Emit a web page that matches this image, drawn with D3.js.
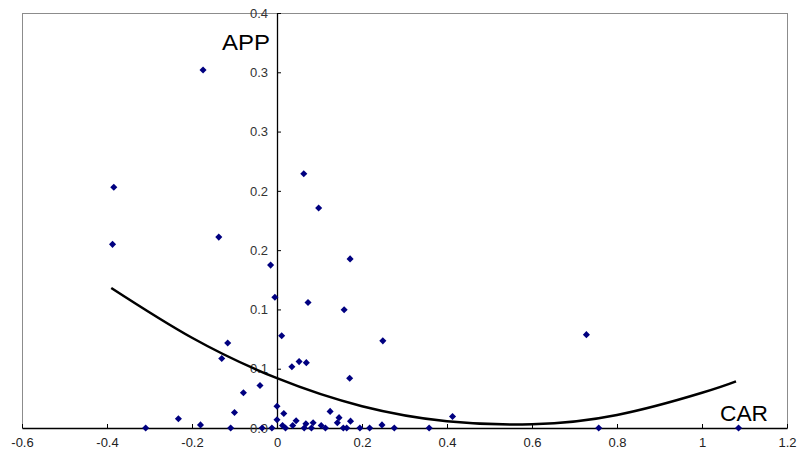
<!DOCTYPE html>
<html>
<head>
<meta charset="utf-8">
<script src="https://cdn.jsdelivr.net/npm/d3@7"></script>
<style>
  body { margin: 0; background: #fff; }
  text { font-family: "Liberation Sans", Arial, sans-serif; }
</style>
</head>
<body>
<script>
// scatter points (CAR, APP)
var carValues = [-0.174, -0.384, -0.387, -0.137, 0.063, 0.098, -0.015, 0.172, -0.005, 0.073,
  0.158, 0.011, -0.116, -0.130, 0.035, 0.052, 0.069, 0.249, 0.728, 0.171,
  -0.040, -0.079, -0.100, -0.232, -0.180, -0.309, -0.109, -0.035, -0.012, 0.0,
  0.016, 0.0, 0.013, 0.020, 0.037, 0.045, 0.064, 0.068, 0.081, 0.085,
  0.104, 0.114, 0.125, 0.142, 0.146, 0.156, 0.164, 0.173, 0.195, 0.218,
  0.247, 0.276, 0.358, 0.413, 0.757, 1.086];
var appValues = [0.345, 0.232, 0.177, 0.184, 0.245, 0.212, 0.157, 0.163, 0.126, 0.121,
  0.114, 0.089, 0.082, 0.067, 0.059, 0.064, 0.063, 0.084, 0.090, 0.048,
  0.041, 0.034, 0.015, 0.009, 0.003, 0.0, 0.0, 0.0, 0.0, 0.021,
  0.014, 0.008, 0.0024, 0.0, 0.0024, 0.007, 0.0, 0.004, 0.0, 0.005,
  0.0024, 0.0, 0.016, 0.005, 0.010, 0.0, 0.0, 0.0066, 0.0, 0.0,
  0.003, 0.0, 0.0, 0.011, 0.0, 0.0];

// polynomial trend line
var trendX = [-0.39, -0.2, 0, 0.2, 0.4, 0.6, 0.8, 1.0, 1.08];
var trendY = [0.135, 0.087, 0.048, 0.021, 0.0065, 0.0036, 0.0126, 0.034, 0.045];

var xTicks = [-0.6, -0.4, -0.2, 0, 0.2, 0.4, 0.6, 0.8, 1, 1.2];
var xLabels = ["-0.6", "-0.4", "-0.2", "0", "0.2", "0.4", "0.6", "0.8", "1", "1.2"];
var yTicks = [0, 1, 2, 3, 4, 5, 6, 7].map(function(i){ return i * 0.4 / 7; });

var W = 799, H = 453;
var plotL = 22, plotR = 787, plotT = 13, plotB = 428;

var x = d3.scaleLinear().domain([-0.6, 1.2]).range([plotL, plotR]);
var y = d3.scaleLinear().domain([0, 0.4]).range([plotB, plotT]);

var svg = d3.select("body").append("svg")
  .attr("width", W).attr("height", H);

// plot area frame
svg.append("rect")
  .attr("x", plotL + 0.5).attr("y", plotT + 0.5)
  .attr("width", plotR - plotL).attr("height", plotB - plotT)
  .attr("fill", "none").attr("stroke", "#8c8c8c").attr("stroke-width", 1);

// x axis at y=0
var xAxis = d3.axisBottom(x).tickValues(xTicks).tickSize(0).tickPadding(10)
  .tickFormat(function(d, i){ return xLabels[i]; });
var gx = svg.append("g").attr("transform", "translate(0," + y(0) + ")").call(xAxis);
gx.select(".domain").attr("stroke", "#000").attr("stroke-width", 1.3);
gx.selectAll(".tick line").attr("y2", -4).attr("stroke", "#000");
gx.selectAll(".tick text").attr("font-size", 13).attr("fill", "#222");

// y axis at x=0
var yAxis = d3.axisLeft(y).tickValues(yTicks).tickSize(0).tickPadding(9)
  .tickFormat(function(d){ return d.toFixed(1); });
var gy = svg.append("g").attr("transform", "translate(" + x(0) + ",0)").call(yAxis);
gy.select(".domain").attr("stroke", "#000").attr("stroke-width", 1.3);
gy.selectAll(".tick line").attr("x2", 4).attr("stroke", "#000");
gy.selectAll(".tick text").attr("font-size", 13).attr("fill", "#333");

// points
var points = carValues.map(function(d, i){ return [d, appValues[i]]; });
svg.selectAll("path.pt")
  .data(points)
  .enter().append("path")
  .attr("class", "pt")
  .attr("d", d3.symbol().type(d3.symbolSquare).size(25))
  .attr("transform", function(d){ return "translate(" + x(d[0]) + "," + y(d[1]) + ") rotate(45)"; })
  .attr("fill", "#000080");

// trend line
var line = d3.line()
  .x(function(d){ return x(d[0]); })
  .y(function(d){ return y(d[1]); })
  .curve(d3.curveNatural);
svg.append("path")
  .datum(trendX.map(function(d, i){ return [d, trendY[i]]; }))
  .attr("d", line)
  .attr("fill", "none")
  .attr("stroke", "#000")
  .attr("stroke-width", 2.5);

// axis titles
svg.append("text").attr("x", 222).attr("y", 50)
  .attr("font-size", 22).attr("textLength", 48).attr("lengthAdjust", "spacingAndGlyphs")
  .text("APP");
svg.append("text").attr("x", 720).attr("y", 421)
  .attr("font-size", 22).attr("textLength", 48).attr("lengthAdjust", "spacingAndGlyphs")
  .text("CAR");
</script>
</body>
</html>
